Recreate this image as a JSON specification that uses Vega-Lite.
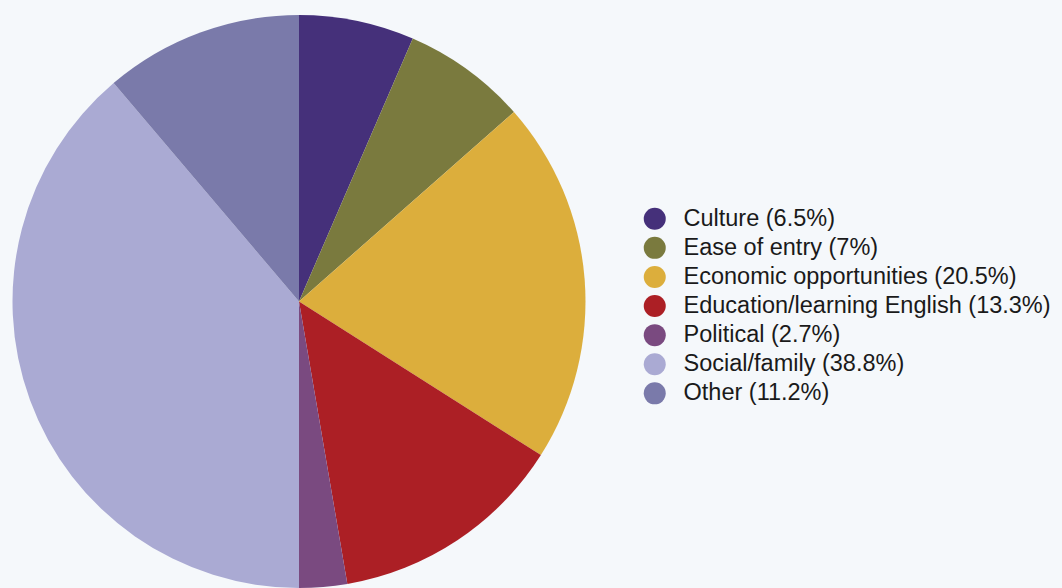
{
  "$schema": "https://vega.github.io/schema/vega-lite/v6.json",
  "width": 598,
  "height": 573,
  "autosize": {"type": "none"},
  "padding": {"left": 0, "top": 15, "right": 464, "bottom": 0},
  "background": "#f5f8fb",
  "config": {"view": {"stroke": null}},
  "data": {
    "values": [
      {"label": "Culture (6.5%)", "value": 6.5, "order": 1},
      {"label": "Ease of entry (7%)", "value": 7, "order": 2},
      {"label": "Economic opportunities (20.5%)", "value": 20.5, "order": 3},
      {"label": "Education/learning English (13.3%)", "value": 13.3, "order": 4},
      {"label": "Political (2.7%)", "value": 2.7, "order": 5},
      {"label": "Social/family (38.8%)", "value": 38.8, "order": 6},
      {"label": "Other (11.2%)", "value": 11.2, "order": 7}
    ]
  },
  "mark": {"type": "arc"},
  "encoding": {
    "theta": {"field": "value", "type": "quantitative", "stack": true},
    "order": {"field": "order", "type": "quantitative", "sort": "ascending"},
    "color": {
      "field": "label",
      "type": "nominal",
      "scale": {
        "domain": ["Culture (6.5%)", "Ease of entry (7%)", "Economic opportunities (20.5%)", "Education/learning English (13.3%)", "Political (2.7%)", "Social/family (38.8%)", "Other (11.2%)"],
        "range": ["#45307a", "#7a7a3e", "#dcae3c", "#ac1f25", "#7a4a80", "#aaaad3", "#7a7aaa"]
      },
      "legend": {
        "title": null,
        "orient": "none",
        "legendX": 643,
        "legendY": 192,
        "padding": 0,
        "symbolType": "circle",
        "symbolSize": 484,
        "symbolStrokeWidth": 0,
        "labelFont": "Liberation Sans",
        "labelFontSize": 23.5,
        "labelColor": "#1a1a1a",
        "labelOffset": 17,
        "labelLimit": 0,
        "rowPadding": 4.1
      }
    }
  }
}
